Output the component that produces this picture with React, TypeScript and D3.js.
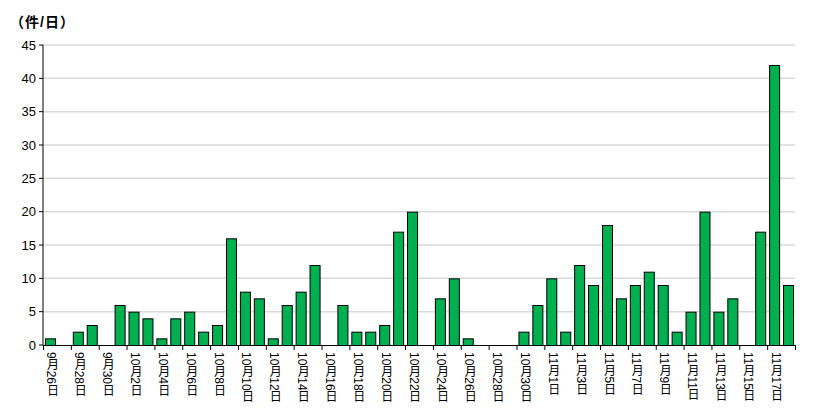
import * as d3 from "d3";

const DATES = [
  "9月26日", "9月27日", "9月28日", "9月29日", "9月30日",
  "10月1日", "10月2日", "10月3日", "10月4日", "10月5日", "10月6日", "10月7日", "10月8日", "10月9日", "10月10日",
  "10月11日", "10月12日", "10月13日", "10月14日", "10月15日", "10月16日", "10月17日", "10月18日", "10月19日", "10月20日",
  "10月21日", "10月22日", "10月23日", "10月24日", "10月25日", "10月26日", "10月27日", "10月28日", "10月29日", "10月30日",
  "10月31日",
  "11月1日", "11月2日", "11月3日", "11月4日", "11月5日", "11月6日", "11月7日", "11月8日", "11月9日", "11月10日",
  "11月11日", "11月12日", "11月13日", "11月14日", "11月15日", "11月16日", "11月17日", "11月18日",
];

const COUNTS = [
  1, 0, 2, 3, 0,
  6, 5, 4, 1, 4, 5, 2, 3, 16, 8,
  7, 1, 6, 8, 12, 0, 6, 2, 2, 3,
  17, 20, 0, 7, 10, 1, 0, 0, 0, 2,
  6,
  10, 2, 12, 9, 18, 7, 9, 11, 9, 2,
  5, 20, 5, 7, 0, 17, 42, 9,
];

const Y_TICKS = [0, 5, 10, 15, 20, 25, 30, 35, 40, 45];
const UNIT_LABEL = "（件/日）";

const W = 827;
const H = 418;
const FONT = "'Liberation Sans', Arial, 'Noto Sans CJK JP', sans-serif";

export default function App() {
  const left = 43;
  const right = 795;
  const top = 45;
  const bottom = 345;

  const x = d3.scaleBand<string>().domain(DATES).range([left, right]).paddingInner(0.28).paddingOuter(0.14);
  const step = x.step();
  const y = d3.scaleLinear().domain([0, 45]).range([bottom, top]);

  return (
    <svg
      width={W}
      height={H}
      style={{ position: "absolute", left: 0, top: 0, background: "#fff" }}
      fontFamily={FONT}
    >
      <text x={10} y={27} fontSize={14} fontWeight="bold" fill="#000" letterSpacing={1}>
        {UNIT_LABEL}
      </text>

      {/* grid */}
      {Y_TICKS.filter((t) => t > 0).map((t) => (
        <line key={t} x1={left} x2={right} y1={y(t)} y2={y(t)} stroke="#d9d9d9" strokeWidth={1.5} />
      ))}

      {/* y axis */}
      <line x1={left} x2={left} y1={top} y2={bottom} stroke="#000" strokeWidth={1} />
      {Y_TICKS.map((t) => (
        <g key={t}>
          <line x1={left - 4} x2={left} y1={y(t)} y2={y(t)} stroke="#000" />
          <text x={left - 7} y={y(t)} dy="0.35em" textAnchor="end" fontSize={13} fill="#000">
            {t}
          </text>
        </g>
      ))}

      {/* bars */}
      {DATES.map((d, i) =>
        COUNTS[i] > 0 ? (
          <rect
            key={d}
            x={x(d)! + 0.5}
            y={y(COUNTS[i]) + 0.5}
            width={x.bandwidth()}
            height={bottom - y(COUNTS[i])}
            fill="#00b050"
            stroke="#000"
            strokeWidth={1}
          />
        ) : null
      )}

      {/* x axis */}
      <line x1={left} x2={right} y1={bottom + 0.5} y2={bottom + 0.5} stroke="#000" strokeWidth={1} />
      {DATES.map((d, i) =>
        i % 2 === 0 ? (
          <g key={d}>
            <line
              x1={left + i * step + 0.5}
              x2={left + i * step + 0.5}
              y1={bottom}
              y2={bottom + 5}
              stroke="#000"
            />
            <text
              x={x(d)! + x.bandwidth() / 2 + 1.5}
              y={bottom + 7}
              fontSize={12}
              fill="#000"
              style={{ writingMode: "vertical-rl" }}
            >
              {d}
            </text>
          </g>
        ) : null
      )}
      <line x1={right + 0.5} x2={right + 0.5} y1={bottom} y2={bottom + 5} stroke="#000" />
    </svg>
  );
}
